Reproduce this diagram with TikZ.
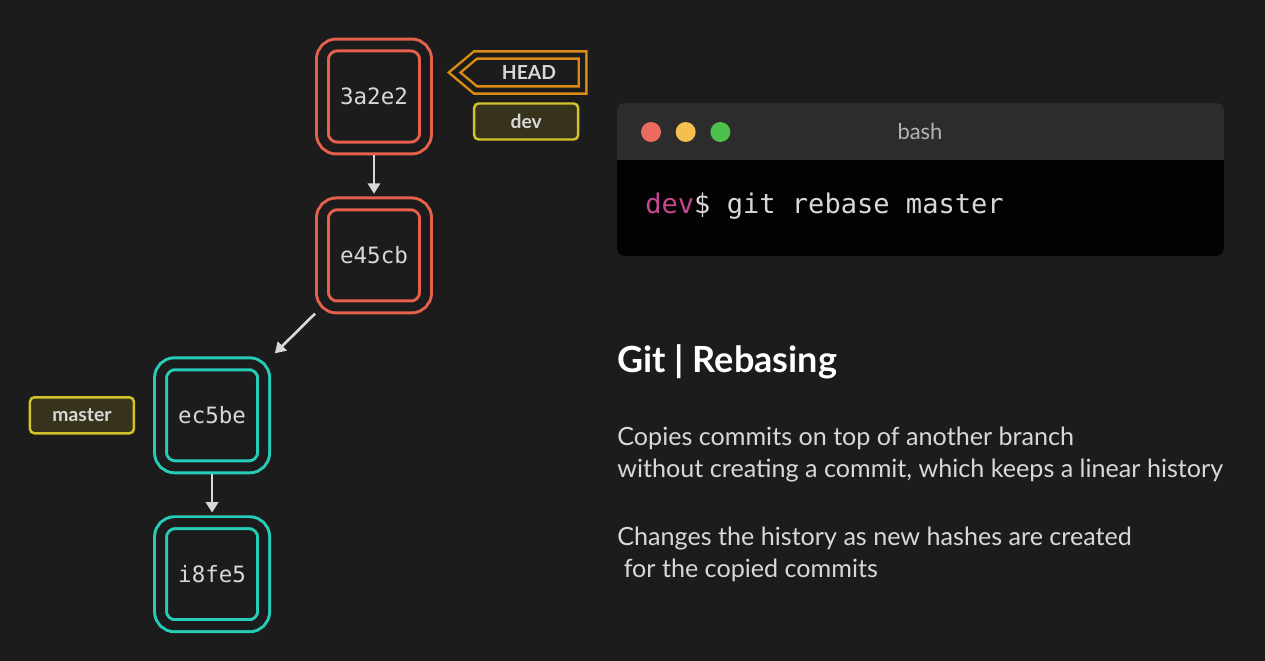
\documentclass[tikz,border=0pt]{standalone}
\usepackage{fontspec}
\setmainfont{Lato}
\setmonofont{DejaVu Sans Mono}
\usepackage{tikz}
\usetikzlibrary{arrows.meta, positioning, shapes.symbols}
\definecolor{canvas}{HTML}{1C1C1C}
\definecolor{coral}{HTML}{E5604D}
\definecolor{mint}{HTML}{26CDB8}
\definecolor{headorange}{HTML}{DC8C12}
\definecolor{tagyellow}{HTML}{D2C22C}
\definecolor{tagfill}{HTML}{37321B}
\definecolor{termbar}{HTML}{2C2C2C}
\definecolor{termbody}{HTML}{020202}
\definecolor{labelgray}{HTML}{D8D8D8}
\definecolor{bashgray}{HTML}{B4B4B4}
\definecolor{promptpink}{HTML}{C8478F}
\definecolor{dotred}{HTML}{EC6A5E}
\definecolor{dotyellow}{HTML}{F4BF4F}
\definecolor{dotgreen}{HTML}{4CC04A}

\begin{document}
\begin{tikzpicture}[
  x=0.02cm, y=-0.02cm,
  commit/.style={draw=#1, line width=1.7pt, double=canvas, double distance=5.1pt,
                 rounded corners=0.28cm, minimum width=2.06cm, minimum height=2.06cm,
                 outer sep=4.25pt, font=\ttfamily\fontsize{12.8}{15}\selectfont, text=labelgray},
  branch/.style={draw=tagyellow, fill=tagfill, line width=1.4pt, rounded corners=2.5pt,
                 minimum width=2.08cm, minimum height=0.72cm,
                 font=\bfseries\fontsize{11}{13}\selectfont, text=labelgray},
  headtag/.style={signal, signal to=west, signal pointer angle=80, draw=headorange,
                  line width=1.4pt, double=canvas, double distance=2.8pt,
                  minimum width=2.56cm, minimum height=0.7cm, outer sep=2.8pt,
                  font=\bfseries\fontsize{11}{13}\selectfont, text=labelgray},
  dot/.style={circle, minimum size=0.4cm, inner sep=0pt},
  desc/.style={font=\fontsize{14.3}{18.7}\selectfont, text=labelgray, align=left, inner sep=0pt},
  arr/.style={-{Triangle[length=6pt, width=7pt]}, line width=1.5pt, color=labelgray}
]
  \fill[canvas] (0,0) rectangle (1265,661);

  \node[commit=coral] (c3a2e2) at (374,96.5) {3a2e2};
  \node[commit=coral, below=0.82cm of c3a2e2] (ce45cb) {e45cb};
  \node[commit=mint, below left=0.84cm and 0.88cm of ce45cb] (cec5be) {ec5be};
  \node[commit=mint, below=0.82cm of cec5be] (ci8fe5) {i8fe5};

  \node[headtag, right=0.28cm of c3a2e2, yshift=0.48cm] (head) {HEAD};
  \node[branch, right=0.8cm of c3a2e2, yshift=-0.5cm] (dev) {dev};
  \node[branch, left=0.36cm of cec5be] (master) {master};

  \draw[arr, shorten >=1.5pt] (c3a2e2) -- (ce45cb);
  \draw[arr, shorten >=3pt] (ce45cb) -- (cec5be);
  \draw[arr, shorten >=1.5pt] (cec5be) -- (ci8fe5);

  \node[fill=termbar, rounded corners=4.5pt, minimum width=12.14cm, minimum height=3.06cm] (term) at (920.5,179.5) {};
  \fill[termbody] (617,160) rectangle (1224,220);
  \fill[termbody, rounded corners=4.5pt] (617,180) rectangle (1224,256);
  \node[dot, fill=dotred] (close) at (651,132) {};
  \node[dot, fill=dotyellow, right=0.28cm of close] (minimize) {};
  \node[dot, fill=dotgreen, right=0.28cm of minimize] (zoom) {};
  \node[font=\fontsize{12.5}{15}\selectfont, text=bashgray] (shell) at (920,132) {bash};
  \node[anchor=west, inner sep=0pt, font=\ttfamily\fontsize{15.4}{18}\selectfont, text=labelgray] (cmd) at (645,206) {\textcolor{promptpink}{dev}\$ git rebase master};

  \node[anchor=base west, inner sep=0pt, font=\bfseries\fontsize{20.5}{24}\selectfont, text=white] (title) at (617,373) {Git | Rebasing};
  \node[desc, anchor=base west] (about) at (617,478) {Copies commits on top of another branch\\without creating a commit, which keeps a linear history};
  \node[desc, anchor=base west] (effect) at (617,578) {Changes the history as new hashes are created\\~for the copied commits};
\end{tikzpicture}
\end{document}
